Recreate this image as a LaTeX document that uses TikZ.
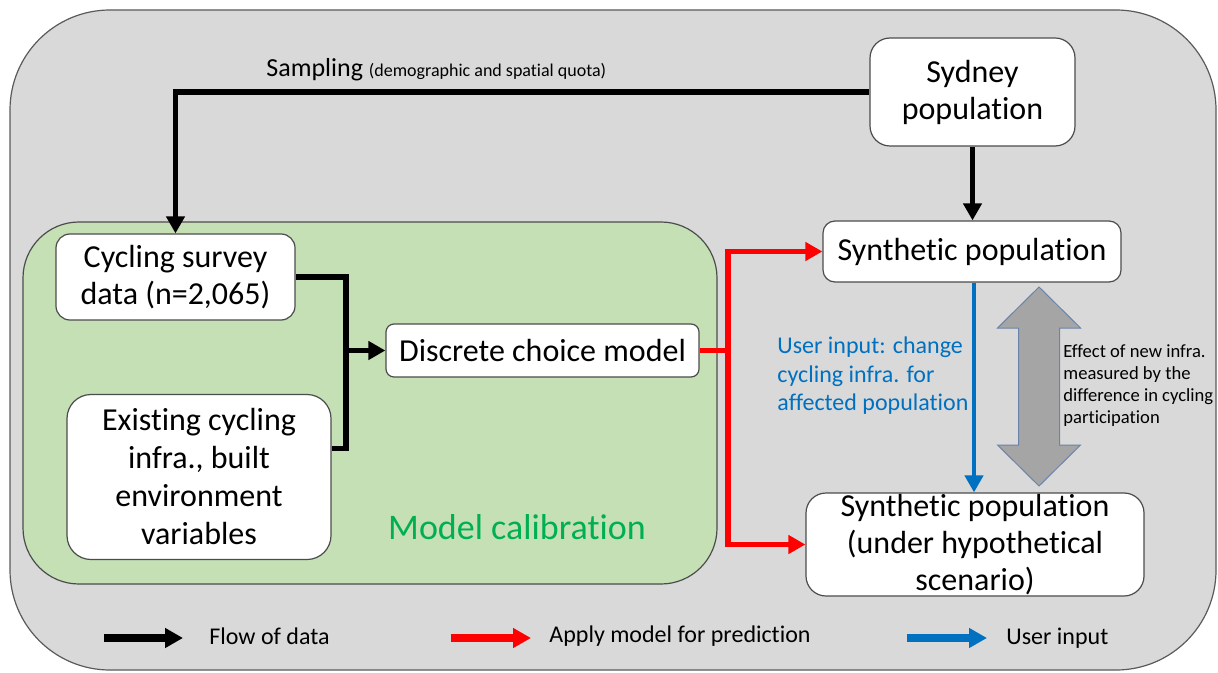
\documentclass[tikz,border=0pt]{standalone}
\usepackage{fontspec}
\setmainfont{Carlito}[Ligatures=NoCommon]
\usetikzlibrary{arrows.meta}
\definecolor{outerfill}{HTML}{D9D9D9}
\definecolor{outerline}{HTML}{5A5A5A}
\definecolor{greenfill}{HTML}{C5E0B4}
\definecolor{greentext}{HTML}{00B050}
\definecolor{blueline}{HTML}{0070C0}
\definecolor{redline}{HTML}{FF0000}
\definecolor{grayarrow}{HTML}{A5A5A5}
\definecolor{grayarrowline}{HTML}{6A83AA}
\begin{document}
\begin{tikzpicture}[x=0.5pt,y=-0.5pt]
\tikzset{
  box/.style={draw=black!70, fill=white, align=center, inner sep=0pt, line width=0.6pt,
    font=\fontsize{16pt}{18.5pt}\selectfont},
  flow/.style={line width=2.7pt, -{Triangle[width=9pt,length=8.5pt]}},
  redflow/.style={flow, draw=redline, color=redline},
  blueflow/.style={line width=2.3pt, draw=blueline, color=blueline, -{Triangle[width=9pt,length=8.5pt]}},
  legarrow/.style={line width=4.3pt, -{Triangle[width=9.5pt,length=9pt]}},
  legtext/.style={anchor=west, inner sep=0pt, font=\fontsize{12pt}{14pt}\selectfont},
}
\useasboundingbox (0,0) rectangle (1218,673);
% background panels
\draw[fill=outerfill, draw=outerline, line width=0.6pt, rounded corners=50pt] (10,10) rectangle (1216,670);
\draw[fill=greenfill, draw=black!70, line width=0.6pt, rounded corners=28pt] (23,222) rectangle (717,584);

% nodes
\node[box, rounded corners=10pt, minimum width=102.5pt, minimum height=54pt] (syd) at (972.5,92) {Sydney\\population};
\node[box, rounded corners=6pt, minimum width=149pt, minimum height=30.5pt] (synth) at (972,251.5) {Synthetic population};
\node[box, rounded corners=7pt, minimum width=119.5pt, minimum height=43pt] (survey) at (175.5,277) {Cycling survey\\data (n=2,065)};
\node[box, rounded corners=12pt, minimum width=132pt, minimum height=82.5pt,
      font=\fontsize{16pt}{19pt}\selectfont] (exist) at (199,477) {Existing cycling\\infra., built\\environment\\variables};
\node[box, rounded corners=4pt, minimum width=156.5pt, minimum height=26.5pt] (disc) at (542.5,350.5) {Discrete choice model};
\node[box, rounded corners=10pt, minimum width=169pt, minimum height=51.5pt] (hypo) at (975,544.5) {Synthetic population\\(under hypothetical\\scenario)};

% labels
\node[anchor=west, inner sep=0pt] (samplab) at (266,70) {\fontsize{13pt}{15pt}\selectfont Sampling \fontsize{9pt}{11pt}\selectfont(demographic and spatial quota)};
\node[text=greentext, inner sep=0pt, font=\fontsize{18pt}{21pt}\selectfont] (calib) at (517,527) {Model calibration};
\node[anchor=west, align=left, inner sep=0pt, text=blueline, font=\fontsize{12pt}{14.25pt}\selectfont] (userlab) at (777,376) {User input: change\\cycling infra. for\\affected population};
\node[anchor=west, align=left, inner sep=0pt, font=\fontsize{9.3pt}{11pt}\selectfont] (effect) at (1063,386) {Effect of new infra.\\measured by the\\difference in cycling\\participation};

% connectors
\draw[flow] (syd.west) -| (survey.north);
\coordinate (junc) at (346,350.5);
\draw[line width=2.7pt] (survey.east) -| (junc);
\draw[line width=2.7pt] ([yshift=14.25pt]exist.east) -| (junc);
\draw[flow] (junc) -- (disc.west);
\draw[flow] (syd.south) -- (syd.south |- synth.north);
\coordinate (rjunc) at (728,350.5);
\draw[redflow] (disc.east) -- (rjunc) |- (synth.west);
\draw[redflow] (rjunc) |- (hypo.west);
\draw[blueflow] ([xshift=1pt]synth.south) -- ([xshift=1pt]synth.south |- hypo.north);

% grey double block arrow
\draw[fill=grayarrow, draw=grayarrowline, line width=0.5pt, line join=miter]
  (1039,287) -- (1080.5,328) -- (1059.5,328) -- (1059.5,445) -- (1080.5,445) -- (1039,486)
  -- (997.5,445) -- (1018.5,445) -- (1018.5,328) -- (997.5,328) -- cycle;

% legend
\coordinate (lka) at (104,638); \coordinate (lkb) at (183,638);
\coordinate (lra) at (451,638); \coordinate (lrb) at (531,638);
\coordinate (lba) at (907,638); \coordinate (lbb) at (987,638);
\draw[legarrow] (lka) -- (lkb);
\draw[legarrow, draw=redline, color=redline] (lra) -- (lrb);
\draw[legarrow, draw=blueline, color=blueline] (lba) -- (lbb);
\node[legtext] (lkt) at (209,636) {Flow of data};
\node[legtext] (lrt) at (549,636) {Apply model for prediction};
\node[legtext] (lbt) at (1006,638) {User input};
\end{tikzpicture}
\end{document}
